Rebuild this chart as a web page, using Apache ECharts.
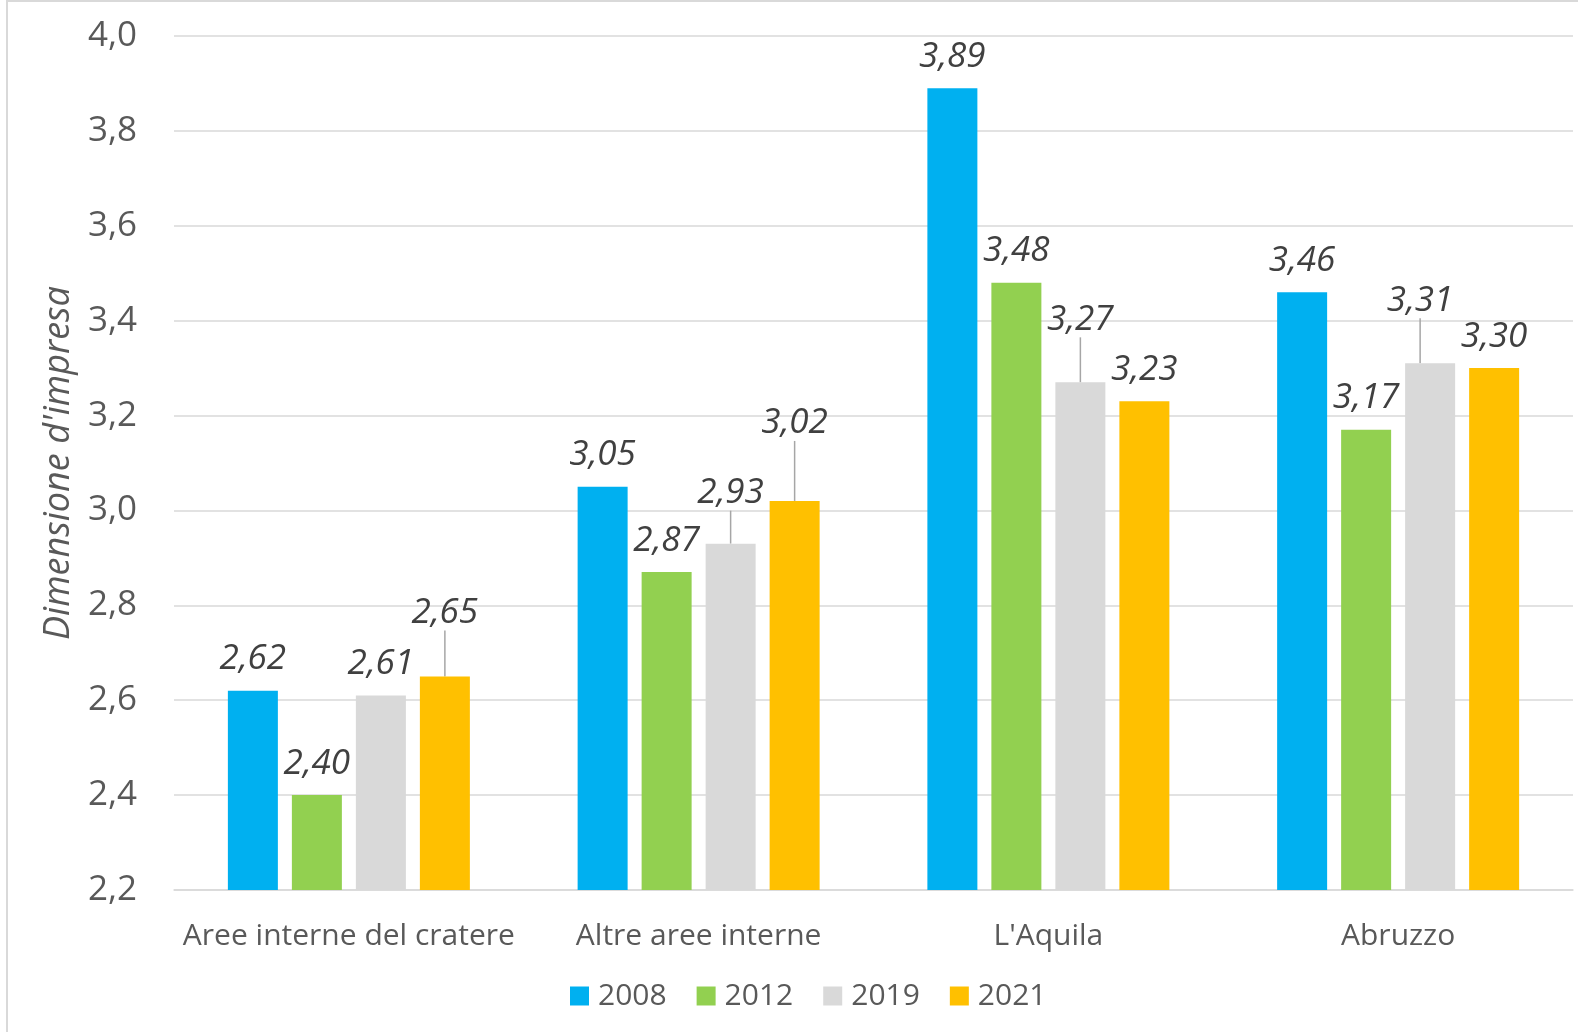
<!DOCTYPE html>
<html>
<head>
<meta charset="utf-8">
<script src="https://cdn.jsdelivr.net/npm/echarts@6/dist/echarts.min.js"></script>
<style>
  html, body { margin: 0; padding: 0; background: #fff; }
  #chart { width: 1578px; height: 1032px; }
</style>
</head>
<body>
<div id="chart"></div>
<script>
// dati
var categories = ['Aree interne del cratere', 'Altre aree interne', "L'Aquila", 'Abruzzo'];
var years = ['2008', '2012', '2019', '2021'];
var values2008 = [2.62, 3.05, 3.89, 3.46];
var values2012 = [2.40, 2.87, 3.48, 3.17];
var values2019 = [2.61, 2.93, 3.27, 3.31];
var values2021 = [2.65, 3.02, 3.23, 3.30];
var yTicks = [2.2, 2.4, 2.6, 2.8, 3.0, 3.2, 3.4, 3.6, 3.8, 4.0];

var colors = ['#00b0f0', '#92d050', '#d9d9d9', '#ffc000'];
var fontFamily = '"Open Sans", sans-serif';

// etichette spostate con linea guida : [dx, dy] par serie / categoria
var moved = {
  2: {1: [0, -19], 2: [0, -31], 3: [-10, -31]},
  3: {0: [0, -32], 1: [0, -46]}
};

function buildData(vals, s) {
  return vals.map(function (v, i) {
    var item = {value: v};
    if (moved[s] && moved[s][i]) {
      item.labelLine = {show: true};
    }
    return item;
  });
}

var chart = echarts.init(document.getElementById('chart'), null, {renderer: 'canvas'});
var allValues = [values2008, values2012, values2019, values2021];

var series = allValues.map(function (vals, s) {
  return {
    name: years[s],
    type: 'bar',
    data: buildData(vals, s),
    barWidth: 50,
    barGap: '28%',
    itemStyle: {color: colors[s]},
    label: {
      show: true,
      position: 'top',
      distance: 14,
      fontFamily: fontFamily,
      fontStyle: 'italic',
      fontSize: 35,
      color: '#404040',
      formatter: function (p) {
        return p.value.toFixed(2).replace('.', ',');
      }
    },
    labelLine: {
      show: false,
      length2: 0,
      lineStyle: {color: '#a6a6a6', width: 1.5}
    },
    labelLayout: function (p) {
      var m = moved[s] && moved[s][p.dataIndex];
      if (m) {
        return {dx: m[0], dy: m[1]};
      }
      return {};
    }
  };
});

var option = {
  animation: false,
  grid: {left: 174, right: 5, top: 36, bottom: 142},
  graphic: [{
    type: 'rect',
    shape: {x: 7, y: 1, width: 1620, height: 1080},
    style: {fill: 'none', stroke: '#d9d9d9', lineWidth: 2},
    silent: true
  }],
  legend: {
    data: years,
    left: 565,
    top: 976,
    icon: 'rect',
    itemWidth: 19,
    itemHeight: 19,
    itemGap: 30,
    textStyle: {fontFamily: fontFamily, fontSize: 30, color: '#595959', padding: [0, 0, 0, 4]}
  },
  xAxis: {
    type: 'category',
    data: categories,
    axisTick: {show: false},
    axisLine: {show: true, lineStyle: {color: '#d9d9d9', width: 1.5}},
    axisLabel: {
      interval: 0,
      margin: 31,
      fontFamily: fontFamily,
      fontSize: 30,
      color: '#595959'
    }
  },
  yAxis: {
    type: 'value',
    min: yTicks[0],
    max: yTicks[yTicks.length - 1],
    interval: 0.2,
    name: "Dimensione d'impresa",
    nameLocation: 'middle',
    nameGap: 93,
    nameTextStyle: {
      fontFamily: fontFamily,
      fontStyle: 'italic',
      fontSize: 36,
      color: '#595959'
    },
    axisLine: {show: false},
    axisTick: {show: false},
    splitLine: {lineStyle: {color: '#d9d9d9', width: 1.5}},
    axisLabel: {
      margin: 37,
      fontFamily: fontFamily,
      fontSize: 35,
      color: '#595959',
      formatter: function (v) {
        return v.toFixed(1).replace('.', ',');
      }
    }
  },
  series: series
};

chart.setOption(option);
</script>
</body>
</html>
